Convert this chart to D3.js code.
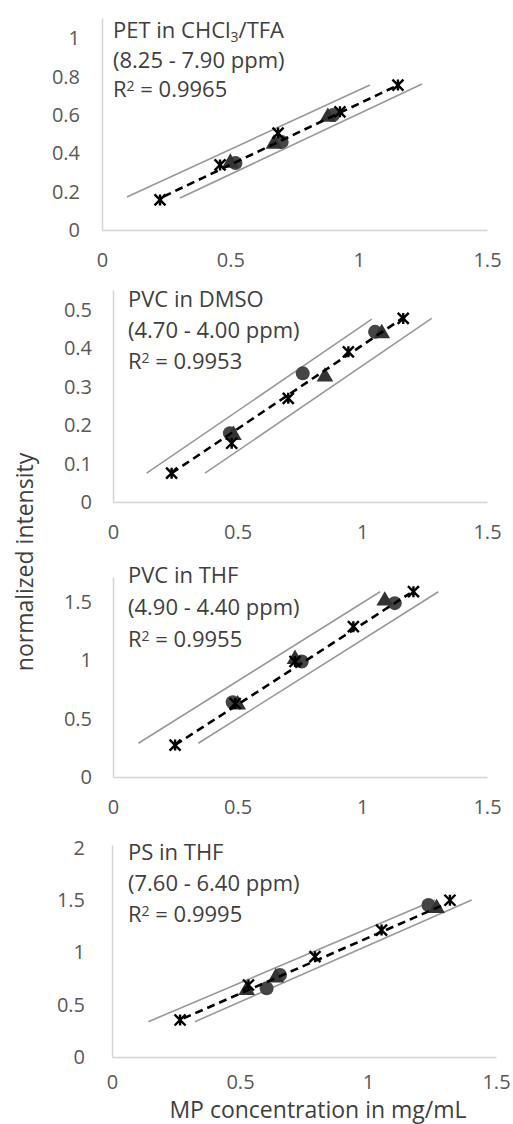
<!DOCTYPE html>
<html>
<head>
<meta charset="utf-8">
<script src="https://cdnjs.cloudflare.com/ajax/libs/d3/7.8.5/d3.min.js"></script>
<style>
    html, body { margin: 0; padding: 0; background: #fff; }
    svg text { font-family: "Open Sans", "Noto Sans", sans-serif; }
</style>
</head>
<body>
<div id="chart"></div>
<script>
// calibration data: [concentration, normalized intensity]
const xTicks = [0, 0.5, 1, 1.5];

const petStars = [[0.226, 0.157], [0.46, 0.34], [0.686, 0.506], [0.927, 0.617], [1.153, 0.757]];
const petCircles = [[0.52, 0.35], [0.70, 0.46], [0.90, 0.60]];
const petTriangles = [[0.50, 0.35], [0.67, 0.45], [0.88, 0.59]];
const petTrend = [[0.24, 0.175], [1.14, 0.748]];
const petUpper = [[0.097, 0.172], [1.044, 0.757]];
const petLower = [[0.304, 0.167], [1.247, 0.762]];
const petYTicks = [0, 0.2, 0.4, 0.6, 0.8, 1];

const dmsoStars = [[0.235, 0.075], [0.476, 0.153], [0.703, 0.27], [0.944, 0.391], [1.164, 0.478]];
const dmsoCircles = [[0.469, 0.179], [0.761, 0.335], [1.051, 0.443]];
const dmsoTriangles = [[0.483, 0.174], [0.85, 0.326], [1.078, 0.439]];
const dmsoTrend = [[0.235, 0.075], [1.16, 0.478]];
const dmsoUpper = [[0.135, 0.075], [1.038, 0.476]];
const dmsoLower = [[0.369, 0.075], [1.278, 0.478]];
const dmsoYTicks = [0, 0.1, 0.2, 0.3, 0.4, 0.5];

const pvcStars = [[0.249, 0.274], [0.49, 0.63], [0.73, 0.99], [0.964, 1.288], [1.205, 1.588]];
const pvcCircles = [[0.48, 0.64], [0.757, 0.99], [1.13, 1.49]];
const pvcTriangles = [[0.50, 0.62], [0.73, 1.01], [1.09, 1.51]];
const pvcTrend = [[0.249, 0.274], [1.191, 1.574]];
const pvcUpper = [[0.102, 0.289], [1.071, 1.588]];
const pvcLower = [[0.342, 0.289], [1.305, 1.588]];
const pvcYTicks = [0, 0.5, 1, 1.5];

const psStars = [[0.266, 0.354], [0.533, 0.689], [0.793, 0.96], [1.053, 1.215], [1.32, 1.50]];
const psCircles = [[0.604, 0.657], [0.656, 0.785], [1.236, 1.455]];
const psTriangles = [[0.526, 0.64], [0.64, 0.76], [1.268, 1.423]];
const psTrend = [[0.279, 0.37], [1.294, 1.455]];
const psUpper = [[0.142, 0.338], [1.262, 1.502]];
const psLower = [[0.324, 0.338], [1.405, 1.502]];
const psYTicks = [0, 0.5, 1, 1.5, 2];

const titles = [
    ['PET in CHCl', '3', '/TFA'],
    ['PVC in DMSO'],
    ['PVC in THF'],
    ['PS in THF']
];
const ranges = ['(8.25 - 7.90 ppm)', '(4.70 - 4.00 ppm)', '(4.90 - 4.40 ppm)', '(7.60 - 6.40 ppm)'];
const r2 = ['0.9965', '0.9953', '0.9955', '0.9995'];

// page layout of each panel (pixels) and the value at the top of its y axis
const layout = [
    {left: 102, right: 487, top: 18, bottom: 230, yMax: 1.107, textX: 113, textY: 38, step: 29.5, labelGap: 22, xPad: 23},
    {left: 113, right: 487, top: 290, bottom: 502, yMax: 0.552, textX: 128, textY: 307, step: 31, labelGap: 21, xPad: 23},
    {left: 113, right: 487, top: 577, bottom: 777, yMax: 1.714, textX: 128, textY: 583, step: 32, labelGap: 21, xPad: 23},
    {left: 112, right: 496, top: 845, bottom: 1057, yMax: 2.029, textX: 128, textY: 860, step: 31, labelGap: 27, xPad: 18}
];

const panels = [
    {stars: petStars, circles: petCircles, triangles: petTriangles, trend: petTrend, upper: petUpper, lower: petLower, yTicks: petYTicks},
    {stars: dmsoStars, circles: dmsoCircles, triangles: dmsoTriangles, trend: dmsoTrend, upper: dmsoUpper, lower: dmsoLower, yTicks: dmsoYTicks},
    {stars: pvcStars, circles: pvcCircles, triangles: pvcTriangles, trend: pvcTrend, upper: pvcUpper, lower: pvcLower, yTicks: pvcYTicks},
    {stars: psStars, circles: psCircles, triangles: psTriangles, trend: psTrend, upper: psUpper, lower: psLower, yTicks: psYTicks}
];

const width = 513, height = 1124;
const axisColor = '#d4d4d4', labelColor = '#595959', textColor = '#404040';

const svg = d3.select('#chart').append('svg')
    .attr('width', width)
    .attr('height', height);

panels.forEach((p, i) => {
    const L = layout[i];
    const x = d3.scaleLinear().domain([0, 1.5]).range([L.left, L.right]);
    const y = d3.scaleLinear().domain([0, L.yMax]).range([L.bottom, L.top]);
    const g = svg.append('g');

    // axes (Excel style: plain line, no tick marks)
    const xAxis = g.append('g')
        .attr('transform', 'translate(0,' + L.bottom + ')')
        .call(d3.axisBottom(x).tickValues(xTicks).tickSize(0).tickPadding(L.xPad).tickFormat(d3.format('')));
    const yAxis = g.append('g')
        .attr('transform', 'translate(' + L.left + ',0)')
        .call(d3.axisLeft(y).tickValues(p.yTicks).tickSize(0).tickPadding(L.labelGap).tickFormat(d3.format('')));
    [xAxis, yAxis].forEach(a => {
        a.select('.domain').attr('stroke', axisColor).attr('stroke-width', 1.5);
        a.selectAll('text')
            .attr('fill', labelColor)
            .style('font-size', '20px');
    });

    const line = d3.line().x(d => x(d[0])).y(d => y(d[1]));

    // prediction band lines
    [p.upper, p.lower].forEach(b => {
        g.append('path')
            .attr('d', line(b))
            .attr('fill', 'none')
            .attr('stroke', '#999')
            .attr('stroke-width', 1.6);
    });

    // markers
    g.selectAll('.circle')
        .data(p.circles)
        .enter().append('circle')
        .attr('class', 'circle')
        .attr('cx', d => x(d[0]))
        .attr('cy', d => y(d[1]))
        .attr('r', 7)
        .attr('fill', '#454545');

    g.selectAll('.tri')
        .data(p.triangles)
        .enter().append('path')
        .attr('class', 'tri')
        .attr('transform', d => 'translate(' + x(d[0]) + ',' + y(d[1]) + ')')
        .attr('d', d3.symbol(d3.symbolTriangle, 120))
        .attr('fill', '#333');

    // linear trend
    g.append('path')
        .attr('d', line(p.trend))
        .attr('fill', 'none')
        .attr('stroke', '#000')
        .attr('stroke-width', 2.6)
        .attr('stroke-dasharray', '8,5');

    const s = 5.5;
    g.selectAll('.star')
        .data(p.stars)
        .enter().append('path')
        .attr('class', 'star')
        .attr('transform', d => 'translate(' + x(d[0]) + ',' + y(d[1]) + ')')
        .attr('d', 'M' + -s + ',' + -s + 'L' + s + ',' + s + 'M' + -s + ',' + s + 'L' + s + ',' + -s + 'M0,' + -s + 'L0,' + s)
        .attr('stroke', '#000')
        .attr('stroke-width', 2.4);

    // panel legend text
    const t = g.append('g')
        .attr('fill', textColor)
        .style('font-size', '22px');
    const t1 = t.append('text').attr('x', L.textX).attr('y', L.textY);
    titles[i].forEach((part, k) => {
        const ts = t1.append('tspan').text(part);
        if (k === 1) ts.attr('baseline-shift', '-25%').style('font-size', '14px');
    });
    t.append('text').attr('x', L.textX).attr('y', L.textY + L.step).text(ranges[i]);
    const t3 = t.append('text').attr('x', L.textX).attr('y', L.textY + L.step * 2);
    t3.append('tspan').text('R');
    t3.append('tspan').attr('baseline-shift', '40%').style('font-size', '14px').text('2');
    t3.append('tspan').text(' = ' + r2[i]);
});

svg.append('text')
    .attr('transform', 'translate(33,562) rotate(-90)')
    .attr('text-anchor', 'middle')
    .attr('fill', textColor)
    .style('font-size', '23px')
    .text('normalized intensity');

svg.append('text')
    .attr('x', 318)
    .attr('y', 1118)
    .attr('text-anchor', 'middle')
    .attr('fill', textColor)
    .style('font-size', '23px')
    .text('MP concentration in mg/mL');
</script>
</body>
</html>
